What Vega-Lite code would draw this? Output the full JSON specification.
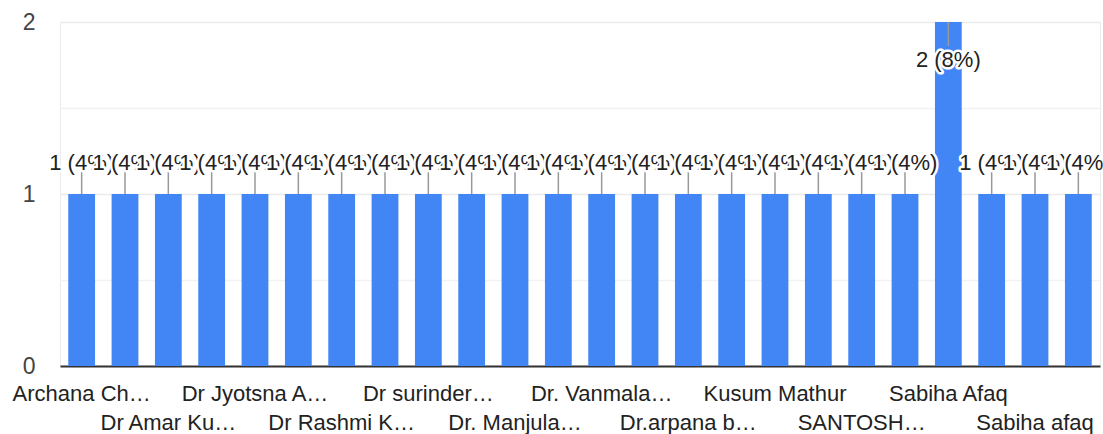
{
  "$schema": "https://vega.github.io/schema/vega-lite/v6.json",
  "autosize": {"type": "none"},
  "width": 1040,
  "height": 344,
  "padding": {"left": 60, "top": 22, "right": 3, "bottom": 68},
  "background": "white",
  "config": {
    "view": {"stroke": "#ebebeb", "strokeWidth": 1},
    "font": "Liberation Sans"
  },
  "data": {
    "values": [
      {"name": "Archana Ch…", "count": 1, "label": "1 (4%)"},
      {"name": "Asha Verma", "count": 1, "label": "1 (4%)"},
      {"name": "Dr Amar Ku…", "count": 1, "label": "1 (4%)"},
      {"name": "Dr Anjali S…", "count": 1, "label": "1 (4%)"},
      {"name": "Dr Jyotsna A…", "count": 1, "label": "1 (4%)"},
      {"name": "Dr Neelam G…", "count": 1, "label": "1 (4%)"},
      {"name": "Dr Rashmi K…", "count": 1, "label": "1 (4%)"},
      {"name": "Dr Sunita R…", "count": 1, "label": "1 (4%)"},
      {"name": "Dr surinder…", "count": 1, "label": "1 (4%)"},
      {"name": "Dr. Kavita S…", "count": 1, "label": "1 (4%)"},
      {"name": "Dr. Manjula…", "count": 1, "label": "1 (4%)"},
      {"name": "Dr. Neeta J…", "count": 1, "label": "1 (4%)"},
      {"name": "Dr. Vanmala…", "count": 1, "label": "1 (4%)"},
      {"name": "Dr.Anita M…", "count": 1, "label": "1 (4%)"},
      {"name": "Dr.arpana b…", "count": 1, "label": "1 (4%)"},
      {"name": "Indu Sharma", "count": 1, "label": "1 (4%)"},
      {"name": "Kusum Mathur", "count": 1, "label": "1 (4%)"},
      {"name": "Rekha Singh", "count": 1, "label": "1 (4%)"},
      {"name": "SANTOSH…", "count": 1, "label": "1 (4%)"},
      {"name": "SUSHMA…", "count": 1, "label": "1 (4%)"},
      {"name": "Sabiha Afaq", "count": 2, "label": "2 (8%)"},
      {"name": "Sabiha Anjum", "count": 1, "label": "1 (4%)"},
      {"name": "Sabiha afaq", "count": 1, "label": "1 (4%)"},
      {"name": "Sarita Devi", "count": 1, "label": "1 (4%)"}
    ]
  },
  "encoding": {
    "x": {
      "field": "name",
      "type": "nominal",
      "sort": "ascending",
      "scale": {"paddingInner": 0.382, "paddingOuter": 0.191},
      "axis": {
        "title": null,
        "labelAngle": 0,
        "ticks": false,
        "domain": true,
        "domainColor": "#333333",
        "domainWidth": 2,
        "labelFont": "Liberation Sans",
        "labelFontSize": 22,
        "labelColor": "#222222",
        "labelPadding": 17,
        "labelBaseline": "top",
        "labelLineHeight": 29,
        "labelLimit": 300,
        "labelOverlap": false,
        "labelExpr": "indexof(domain('x'), datum.value) % 4 == 0 ? datum.label : (indexof(domain('x'), datum.value) % 4 == 2 ? ['', datum.label] : '')"
      }
    },
    "y": {
      "field": "count",
      "type": "quantitative",
      "scale": {"domain": [0, 2], "nice": false},
      "axis": {
        "title": null,
        "values": [0, 0.5, 1, 1.5, 2],
        "labelExpr": "datum.value % 1 == 0 ? format(datum.value, 'd') : ''",
        "ticks": false,
        "domain": false,
        "grid": true,
        "gridColor": {"condition": {"test": "datum.value % 1 != 0", "value": "#f2f2f2"}, "value": "#ebebeb"},
        "gridWidth": 1.5,
        "labelFont": "Liberation Sans",
        "labelFontSize": 23,
        "labelColor": "#444444",
        "labelPadding": 25
      }
    }
  },
  "layer": [
    {
      "mark": {"type": "bar", "color": "#4285f4"}
    },
    {
      "transform": [{"filter": "datum.count == 1"}],
      "mark": {"type": "rule", "color": "#999999", "strokeWidth": 1.5, "y2Offset": -22},
      "encoding": {"y2": {"field": "count"}}
    },
    {
      "transform": [{"filter": "datum.count == 2"}],
      "mark": {"type": "rule", "color": "#999999", "strokeWidth": 1.5, "y2Offset": 24},
      "encoding": {"y2": {"field": "count"}}
    },
    {
      "transform": [
        {"filter": "datum.count == 1"},
        {"fold": ["name", "label"], "as": ["kind", "v"]}
      ],
      "mark": {"type": "text", "dy": -31, "fontSize": 22, "font": "Liberation Sans", "baseline": "middle", "align": "center", "strokeJoin": "round"},
      "encoding": {
        "text": {"field": "label"},
        "fill": {"condition": {"test": "datum.kind == 'name'", "value": "#ffffff"}, "value": "#222222"},
        "stroke": {"condition": {"test": "datum.kind == 'name'", "value": "#ffffff"}, "value": "transparent"},
        "strokeWidth": {"condition": {"test": "datum.kind == 'name'", "value": 5}, "value": 0}
      }
    },
    {
      "transform": [
        {"filter": "datum.count == 2"},
        {"fold": ["name", "label"], "as": ["kind", "v"]}
      ],
      "mark": {"type": "text", "dy": 38, "fontSize": 22, "font": "Liberation Sans", "baseline": "middle", "align": "center", "strokeJoin": "round"},
      "encoding": {
        "text": {"field": "label"},
        "fill": {"condition": {"test": "datum.kind == 'name'", "value": "#ffffff"}, "value": "#222222"},
        "stroke": {"condition": {"test": "datum.kind == 'name'", "value": "#ffffff"}, "value": "transparent"},
        "strokeWidth": {"condition": {"test": "datum.kind == 'name'", "value": 5}, "value": 0}
      }
    }
  ]
}
